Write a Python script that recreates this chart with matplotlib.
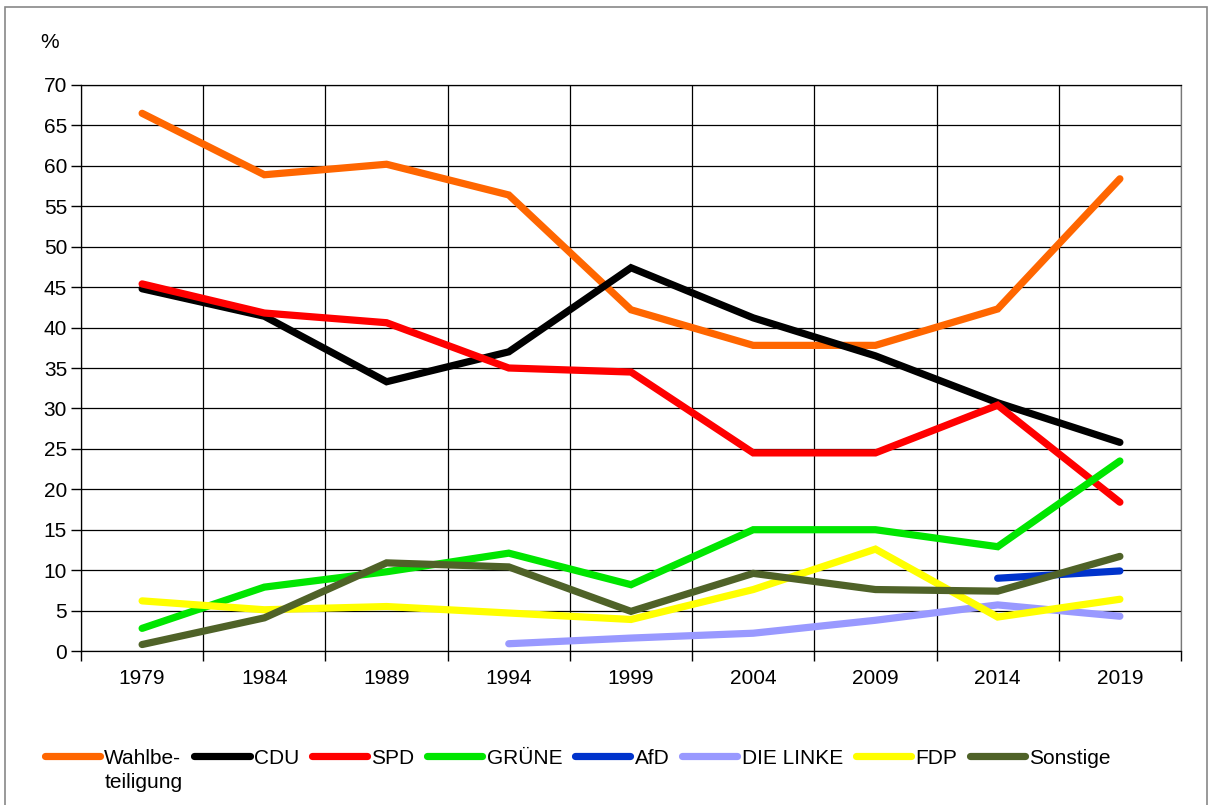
import matplotlib
matplotlib.use("Agg")
import matplotlib.pyplot as plt
from matplotlib.patches import Rectangle
import numpy as np

plt.rcParams['font.family'] = ['Liberation Sans', 'DejaVu Sans']

years = ["1979", "1984", "1989", "1994", "1999", "2004", "2009", "2014", "2019"]
wahl = [66.5, 58.9, 60.2, 56.4, 42.2, 37.8, 37.8, 42.3, 58.4]
cdu = [44.8, 41.4, 33.3, 37.0, 47.4, 41.2, 36.5, 30.7, 25.8]
spd = [45.4, 41.8, 40.6, 35.0, 34.5, 24.5, 24.5, 30.4, 18.4]
gruene = [2.8, 7.9, 9.8, 12.1, 8.2, 15.0, 15.0, 12.9, 23.5]
afd = [None, None, None, None, None, None, None, 9.0, 9.9]
linke = [None, None, None, 0.9, 1.6, 2.2, 3.8, 5.7, 4.3]
fdp = [6.2, 5.1, 5.5, 4.7, 3.9, 7.6, 12.6, 4.2, 6.4]
sonstige = [0.8, 4.1, 10.9, 10.4, 4.9, 9.6, 7.6, 7.4, 11.7]

series = [
    ("Wahlbe-", wahl, "#FF6600"),
    ("CDU", cdu, "#000000"),
    ("SPD", spd, "#FF0000"),
    ("GRÜNE", gruene, "#00E600"),
    ("AfD", afd, "#0033CC"),
    ("DIE LINKE", linke, "#9999FF"),
    ("FDP", fdp, "#FFFF00"),
    ("Sonstige", sonstige, "#4F6228"),
]

FS = 15
W, H = 1213, 805
fig = plt.figure(figsize=(W / 100, H / 100), dpi=100)
ax = fig.add_axes([81 / W, 1 - 651 / H, (1181 - 81) / W, (651 - 85) / H])

x = np.arange(len(years))
for label, vals, col in series:
    y = np.array([np.nan if v is None else v for v in vals], dtype=float)
    ax.plot(x, y, color=col, lw=5.2, solid_capstyle='round', solid_joinstyle='miter', label=label, zorder=3)

ax.set_xlim(-0.5, len(years) - 0.5)
ax.set_ylim(0, 70)
ax.set_yticks(np.arange(0, 71, 5))
ax.set_xticks(x)
ax.set_xticklabels(years)
ax.set_xticks(np.arange(-0.5, len(years), 1.0), minor=True)
ax.tick_params(axis='x', which='major', length=0, pad=13, labelsize=FS)
ax.tick_params(axis='x', which='minor', length=7, width=1, color='black', direction='out')
ax.tick_params(axis='y', length=7, width=1, pad=3, labelsize=FS)
ax.grid(axis='y', which='major', color='black', lw=0.9, zorder=1)
ax.grid(axis='x', which='minor', color='black', lw=0.9, zorder=1)
for s in ax.spines.values():
    s.set_color('black')
    s.set_linewidth(0.9)
ax.spines['right'].set_color('#777777')

fig.text(40 / W, 1 - 42 / H, "%", fontsize=FS, va='center', ha='left')

leg = fig.legend(loc='center left', bbox_to_anchor=(45 / W, 1 - 758 / H), ncol=8, frameon=False,
                 fontsize=FS, handlelength=2.65, handletextpad=0.2, columnspacing=0.62,
                 borderaxespad=0, borderpad=0)
for h in leg.get_lines():
    h.set_linewidth(5.2)
    h.set_solid_capstyle('round')

fig.canvas.draw()
t0 = leg.get_texts()[0]
bb = t0.get_window_extent()
fig.text(bb.x0 / W, (bb.y0 - 24) / H + (bb.y1 - bb.y0) / (2 * H), "teiligung", fontsize=FS,
         va='center', ha='left')

fig.patches.append(Rectangle((5 / W, -0.01), (1207 - 5) / W, 1 - 7 / H + 0.01,
                             transform=fig.transFigure, fill=False, edgecolor='#888888', lw=1.2))

fig.savefig("out.png", dpi=100)
